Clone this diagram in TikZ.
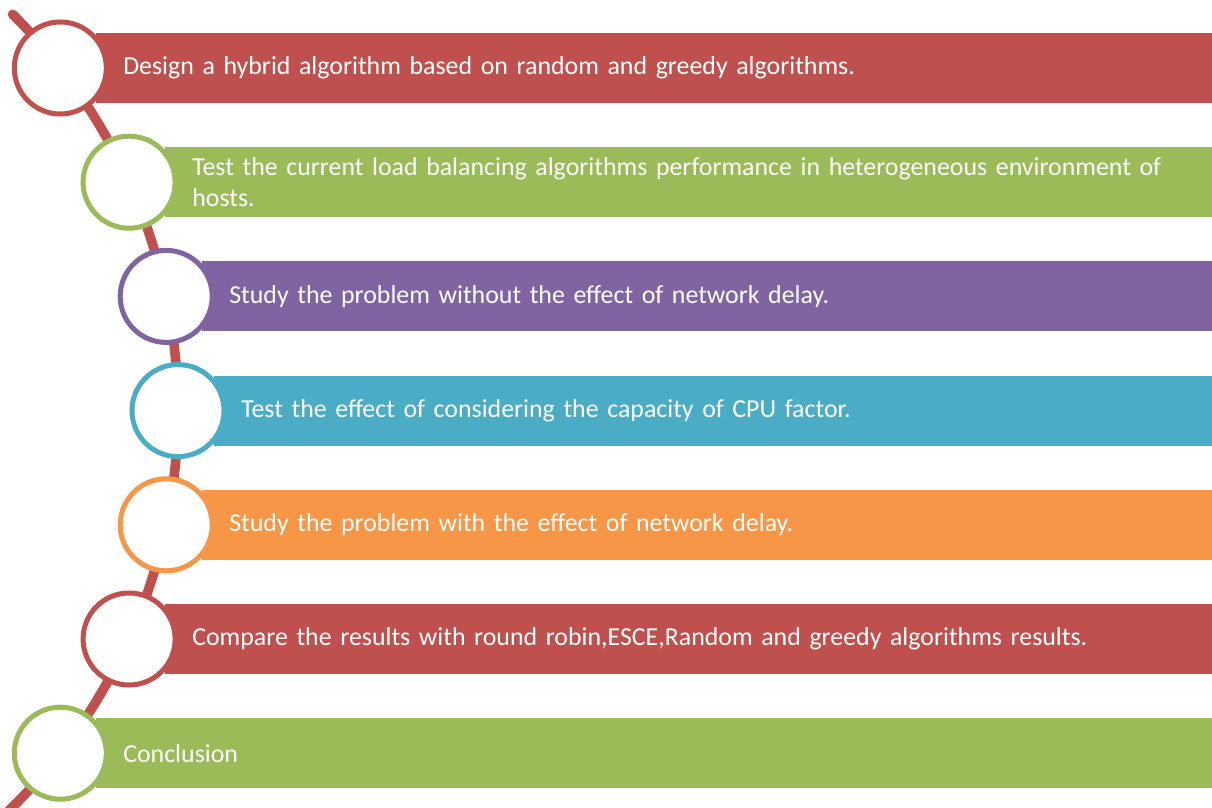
\documentclass[tikz,border=0pt]{standalone}
\usepackage{fontspec}
\setmainfont{Carlito}
\usetikzlibrary{positioning}
\definecolor{stepred}{HTML}{C0504D}
\definecolor{stepgreen}{HTML}{9BBB59}
\definecolor{steppurple}{HTML}{8064A2}
\definecolor{stepteal}{HTML}{4BACC6}
\definecolor{steporange}{HTML}{F79646}

\begin{document}
\begin{tikzpicture}[x=0.025cm, y=-0.025cm,
    % Node styles
    bar/.style={rectangle, draw=none, anchor=west, minimum height=1.75cm, inner xsep=0.675cm, inner ysep=0pt, align=left, text=white, font=\fontsize{18.4}{21.5}\selectfont},
    ring/.style={circle, draw, fill=white, line width=0.125cm, minimum size=2.3cm, inner sep=0pt},
    spine/.style={line width=0.24cm, draw=stepred, line cap=round},
]
\useasboundingbox (0,0) rectangle (1212,808);
\clip (0,0) rectangle (1212,808);

% === Spine (arc behind the circles) ===
\coordinate (hub) at (-379.5,410.6);
\draw[spine] (hub) ++(-45.3:557.5) arc[start angle=-45.3, end angle=47, radius=557.5];

% === Bars ===
\node[bar, fill=stepred, text width=26.55cm] (design) at (96,68) {Design a hybrid algorithm based on random and greedy algorithms.};
\node[bar, fill=stepgreen, text width=24.85cm] (testcur) at (165,182.2) {Test the current load balancing algorithms performance in heterogeneous environment of\\hosts.};
\node[bar, fill=steppurple, text width=23.9cm] (nodelay) at (202,296.4) {Study the problem without the effect of network delay.};
\node[bar, fill=stepteal, text width=23.6cm] (cpu) at (214,410.6) {Test the effect of considering the capacity of CPU factor.};
\node[bar, fill=steporange, text width=23.9cm] (delay) at (202,524.8) {Study the problem with the effect of network delay.};
\node[bar, fill=stepred, text width=24.85cm] (compare) at (165,639) {Compare the results with round robin,ESCE,Random and greedy algorithms results.};
\node[bar, fill=stepgreen, text width=26.55cm] (concl) at (96,753.2) {Conclusion};

% === Circles on the spine ===
\node[ring, draw=stepred] (c1) at (60.3,68) {};
\node[ring, draw=stepgreen] (c2) at (129.1,182.2) {};
\node[ring, draw=steppurple] (c3) at (166.2,296.4) {};
\node[ring, draw=stepteal] (c4) at (178,410.6) {};
\node[ring, draw=steporange] (c5) at (166.2,524.8) {};
\node[ring, draw=stepred] (c6) at (129.1,639) {};
\node[ring, draw=stepgreen] (c7) at (60.3,753.2) {};

\end{tikzpicture}
\end{document}
